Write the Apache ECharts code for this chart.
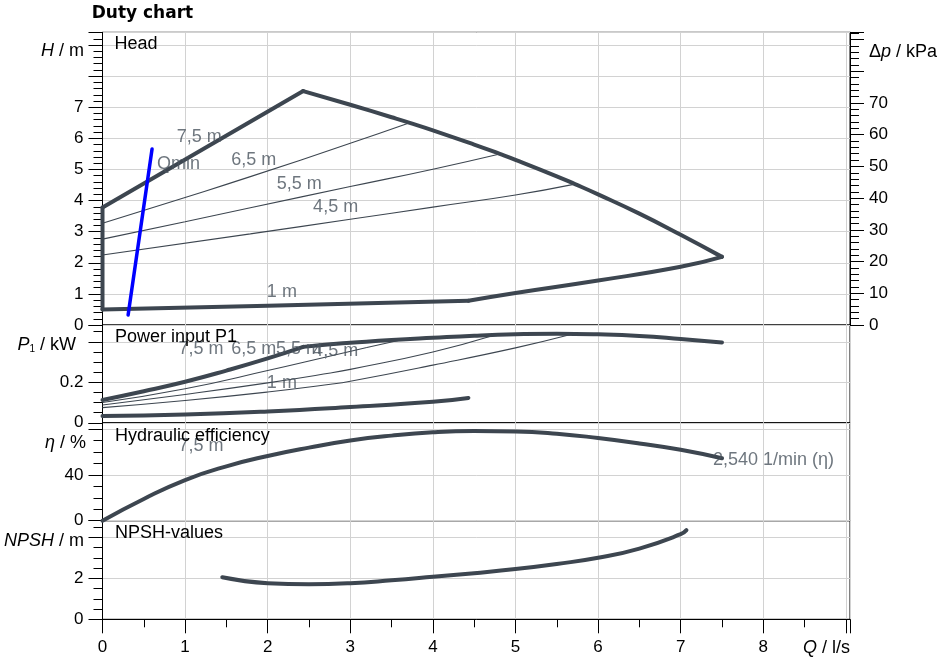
<!DOCTYPE html>
<html><head><meta charset="utf-8">
<script src="https://cdn.jsdelivr.net/npm/echarts@6/dist/echarts.min.js"></script>
<style>html,body{margin:0;padding:0;background:#fff}#c{width:941px;height:661px}</style>
</head><body><div id="c"></div>
<script>
// ---- tick labels ----
const xTickLabels = [0, 1, 2, 3, 4, 5, 6, 7, 8];
const headTickLabels = [0, 1, 2, 3, 4, 5, 6, 7];
const dpTickLabels = [0, 10, 20, 30, 40, 50, 60, 70];
const powerTickLabels = [0, 0.2];
const effTickLabels = [0, 40];
const npshTickLabels = [0, 2];

// ---- head panel (Q l/s, H m) ----
const headZeroFlow = [[0,0.5],[0,3.78]];
const head75 = [[0,3.78],[2.43,7.52]];
const headMaxSpeed = [[2.43,7.52],[3,7.08],[3.5,6.68],[3.72,6.5],[4,6.26],[4.5,5.8],[4.81,5.5],[5,5.31],[5.5,4.78],[5.72,4.53],[6,4.2],[6.5,3.58],[7,2.9],[7.5,2.19]];
const headMinSpeed = [[7.5,2.19],[7,1.87],[6,1.43],[5,1.03],[4.43,0.78]];
const head1 = [[4.43,0.78],[2,0.62],[0,0.5]];
const head65 = [[0,3.27],[1,4.1],[1.79,4.77],[3,5.84],[3.72,6.5]];
const head55 = [[0,2.76],[1,3.32],[1.79,3.77],[3,4.45],[4,5.01],[4.81,5.5]];
const head45 = [[0,2.25],[1.79,2.93],[3,3.4],[4,3.79],[5,4.18],[5.72,4.53]];
const qmin = [[0.31,0.32],[0.6,5.66]];
const headLabels = [[0.90,6.05,'7,5 m'],[1.56,5.31,'6,5 m'],[0.66,5.17,'Qmin'],[2.11,4.52,'5,5 m'],[2.55,3.80,'4,5 m'],[1.99,1.07,'1 m']];

// ---- power panel (Q l/s, P1 kW) ----
const power75 = [[0,0.113],[0.5,0.156],[1,0.203],[1.5,0.258],[2,0.318],[2.43,0.375]];
const powerMaxSpeed = [[2.43,0.375],[2.76,0.388],[3,0.395],[3.5,0.409],[4,0.42],[4.5,0.43],[5,0.437],[5.5,0.44],[6,0.437],[6.5,0.429],[7,0.414],[7.5,0.397]];
const power65 = [[0,0.10],[1,0.168],[2,0.258],[2.76,0.33],[3.2,0.372],[3.65,0.413]];
const power55 = [[0,0.088],[1,0.14],[2,0.197],[2.76,0.246],[3,0.264],[4,0.35],[4.72,0.43]];
const power45 = [[0,0.075],[1,0.11],[2,0.152],[2.76,0.19],[3,0.205],[4,0.285],[5,0.37],[5.68,0.437]];
const powerLower = [[0,0.034],[1,0.041],[2,0.056],[3,0.078],[4,0.104],[4.43,0.123]];
const powerLabels = [[0.92,0.364,'7,5 m'],[1.56,0.364,'6,5 m'],[2.10,0.364,'5,5 m'],[2.55,0.356,'4,5 m'],[1.99,0.195,'1 m']];

// ---- efficiency panel (Q l/s, eta %) ----
const efficiency = [[0,0],[0.5,19],[1,35.5],[1.5,47.5],[2,56.5],[2.5,63.8],[3,70],[3.5,74.3],[4,77.2],[4.5,78.3],[5,78],[5.5,76],[6,72.2],[6.5,67.5],[7,62],[7.5,54.6]];
const effLabels = [[0.92,65.4,'7,5 m'],[7.39,53.2,'2,540 1/min (η)']];

// ---- NPSH panel (Q l/s, NPSH m) ----
const npsh = [[1.45,2.05],[2,1.76],[2.5,1.71],[3,1.76],[3.5,1.9],[4,2.07],[4.5,2.25],[5,2.45],[5.5,2.7],[6,3.0],[6.5,3.45],[7,4.15],[7.07,4.35]];

// ---- axis extents ----
const xMax = 9.05, headMax = 9.41, powerMax = 0.483, effMax = 85.5, npshMax = 4.81;

const FONT = '"Liberation Sans", Arial, sans-serif';
const CURVE = '#3d4650';
const LABEL = '#4a545e';
const GRIDC = '#d2d2d2';

function fmt(list) {
  return function (v) {
    for (const t of list) if (Math.abs(v - t) < 1e-6) return String(t);
    return '';
  };
}
const tickStyle = {color: '#000', width: 1};

function xAxisFor(i, bottom) {
  return {
    type: 'value', gridIndex: i, min: 0, max: xMax, interval: 1,
    axisLine: {show: bottom, lineStyle: {color: '#000'}},
    axisTick: {show: bottom, length: 14, lineStyle: tickStyle},
    minorTick: {show: bottom, splitNumber: 2, length: 8, lineStyle: tickStyle},
    axisLabel: {show: bottom, formatter: fmt(xTickLabels), color: '#000', fontSize: 17, fontFamily: FONT, margin: 20, showMaxLabel: true},
    splitLine: {show: true, lineStyle: {color: GRIDC, width: 1}},
    minorSplitLine: {show: false}
  };
}
function yAxisFor(i, max, interval, minorSplit, labels, position) {
  return {
    type: 'value', gridIndex: i, min: 0, max: max, interval: interval,
    position: position || 'left',
    axisLine: {show: true, lineStyle: {color: '#000'}},
    axisTick: {show: true, length: 14, lineStyle: tickStyle},
    minorTick: {show: true, splitNumber: minorSplit, length: 9, lineStyle: tickStyle},
    axisLabel: {formatter: fmt(labels), color: '#000', fontSize: 17, fontFamily: FONT, margin: 19, showMaxLabel: true, showMinLabel: true},
    splitLine: {show: position !== 'right', lineStyle: {color: GRIDC, width: 1}}
  };
}
function thick(data, xi, yi, smooth) {
  return {type: 'line', data: data, xAxisIndex: xi, yAxisIndex: yi, showSymbol: false, symbol: 'none', smooth: smooth || false, clip: false,
    lineStyle: {color: CURVE, width: 4, join: 'round', cap: 'round'}, z: 5, silent: true, animation: false};
}
function thin(data, xi, yi) {
  return {type: 'line', data: data, xAxisIndex: xi, yAxisIndex: yi, showSymbol: false, symbol: 'none', smooth: 0.5, clip: false,
    lineStyle: {color: CURVE, width: 1.1}, z: 4, silent: true, animation: false};
}
function labelSeries(data, xi, yi) {
  return {type: 'scatter', data: data.map(d => ({value: [d[0], d[1]], name: d[2]})), xAxisIndex: xi, yAxisIndex: yi,
    symbolSize: 0, silent: true, animation: false, z: 10,
    label: {show: true, position: 'inside', align: 'left', verticalAlign: 'middle', formatter: p => p.name,
      color: LABEL, fontSize: 18, fontFamily: FONT}};
}

const txt = (x, y, text, opts) => ({type: 'text', x: x, y: y, z: 20, silent: true,
  style: Object.assign({text: text, fill: '#000', fontSize: 18, fontFamily: FONT, align: 'left', verticalAlign: 'middle'}, opts || {})});
const ital = {i: {fontStyle: 'italic', fontSize: 18, fontFamily: FONT, fill: '#000'}};

const option = {
  backgroundColor: '#fff',
  animation: false,
  grid: [
    {left: 102.5, right: 91, top: 32.3, height: 292.7, show: true, borderColor: '#000', borderWidth: 1, backgroundColor: 'transparent'},
    {left: 102.5, right: 91, top: 325, height: 97.8, show: true, borderColor: '#000', borderWidth: 1, backgroundColor: 'transparent'},
    {left: 102.5, right: 91, top: 422.8, height: 97.9, show: true, borderColor: '#000', borderWidth: 1, backgroundColor: 'transparent'},
    {left: 102.5, right: 91, top: 520.7, height: 98.6, show: true, borderColor: '#000', borderWidth: 1, backgroundColor: 'transparent'}
  ],
  xAxis: [xAxisFor(0, false), xAxisFor(1, false), xAxisFor(2, false), xAxisFor(3, true)],
  yAxis: [
    yAxisFor(0, headMax, 1, 5, headTickLabels),
    yAxisFor(0, headMax * 9.80665, 10, 5, dpTickLabels, 'right'),
    yAxisFor(1, powerMax, 0.2, 4, powerTickLabels),
    yAxisFor(2, effMax, 40, 4, effTickLabels),
    yAxisFor(3, npshMax, 2, 4, npshTickLabels)
  ],
  series: [
    thin(head65, 0, 0), thin(head55, 0, 0), thin(head45, 0, 0),
    thick(headZeroFlow, 0, 0, false),
    thick(head75, 0, 0, false),
    thick(headMaxSpeed, 0, 0, 0.5),
    thick(headMinSpeed, 0, 0, 0.5),
    thick(head1, 0, 0, 0.5),
    {type: 'line', data: qmin, xAxisIndex: 0, yAxisIndex: 0, showSymbol: false, symbol: 'none', clip: false,
      lineStyle: {color: '#0000ff', width: 3.5, cap: 'round'}, z: 6, silent: true, animation: false},
    labelSeries(headLabels, 0, 0),
    thin(power65, 1, 2), thin(power55, 1, 2), thin(power45, 1, 2),
    thick(power75, 1, 2, 0.5),
    thick(powerMaxSpeed, 1, 2, 0.5),
    thick(powerLower, 1, 2, 0.5),
    labelSeries(powerLabels, 1, 2),
    thick(efficiency, 2, 3, 0.5),
    labelSeries(effLabels, 2, 3),
    thick(npsh, 3, 4, 0.5)
  ],
  graphic: [
    txt(91.7, 14, 'Duty chart', {fontSize: 17, fontWeight: 'bold', fontFamily: '"DejaVu Sans", Verdana, sans-serif'}),
    txt(114.5, 44, 'Head'),
    txt(115, 337.5, 'Power input P1'),
    txt(115, 436, 'Hydraulic efficiency'),
    txt(115, 533, 'NPSH-values'),
    txt(84, 51, '{i|H} / m', {align: 'right', rich: ital}),
    txt(76, 345, '{i|P}{s|1} / kW', {align: 'right', rich: Object.assign({s: {fontSize: 10, fontFamily: FONT, fill: '#000', verticalAlign: 'bottom', padding: [8, 0, 0, 0]}}, ital)}),
    txt(86, 443, '{i|η} / %', {align: 'right', rich: ital}),
    txt(84, 541, '{i|NPSH} / m', {align: 'right', rich: ital}),
    txt(869, 52, 'Δ{i|p} / kPa', {rich: ital}),
    txt(850, 648, '{i|Q} / l/s', {align: 'right', rich: ital})
  ]
};
const chart = echarts.init(document.getElementById('c'), null, {renderer: 'canvas'});
chart.setOption(option);
</script></body></html>
